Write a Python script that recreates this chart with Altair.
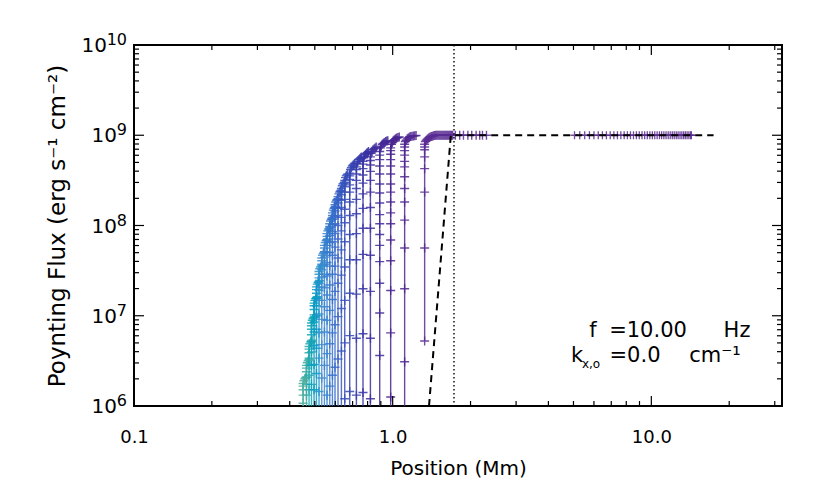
import altair as alt
import pandas as pd

# ---------------- data ----------------
# x position (Mm) of each near-vertical flux profile, left (teal) to right (purple)
curve_x = [0.4505, 0.4643, 0.4751, 0.4854, 0.4967, 0.5074, 0.5192, 0.5319, 0.5448,
           0.5575, 0.5711, 0.5850, 0.5986, 0.6148, 0.6336, 0.6526, 0.6823, 0.7241,
           0.7679, 0.8203, 0.8910, 0.9824, 1.1125, 1.3293]

# log10 flux of the "+" markers along each vertical part
curve_marks = [
    [6.25, 6.22, 6.18, 6.12, 6.03, 5.9, 5.7],
    [6.45, 6.42, 6.38, 6.32, 6.24, 6.12, 5.95, 5.7],
    [6.66, 6.63, 6.59, 6.53, 6.45, 6.34, 6.18, 5.9],
    [6.92, 6.89, 6.85, 6.79, 6.71, 6.60, 6.45, 6.24, 5.9],
    [7.14, 7.11, 7.07, 7.01, 6.93, 6.82, 6.67, 6.46, 6.18, 5.8],
    [7.32, 7.29, 7.25, 7.19, 7.11, 7.00, 6.85, 6.64, 6.36, 5.9],
    [7.49, 7.46, 7.42, 7.36, 7.28, 7.17, 7.02, 6.81, 6.53, 6.16, 5.7],
    [7.64, 7.61, 7.57, 7.51, 7.43, 7.32, 7.17, 6.96, 6.68, 6.31, 5.85],
    [7.78, 7.75, 7.71, 7.65, 7.57, 7.46, 7.31, 7.10, 6.82, 6.45, 5.9],
    [7.91, 7.88, 7.84, 7.78, 7.70, 7.59, 7.44, 7.23, 6.95, 6.58, 6.12, 5.5],
    [8.02, 7.99, 7.95, 7.89, 7.81, 7.70, 7.55, 7.34, 7.06, 6.69, 6.22, 5.6],
    [8.14, 8.11, 8.07, 8.01, 7.93, 7.82, 7.67, 7.46, 7.18, 6.81, 6.34, 5.7],
    [8.23, 8.20, 8.16, 8.10, 8.02, 7.91, 7.76, 7.55, 7.27, 6.90, 6.43, 5.8],
    [8.32, 8.29, 8.25, 8.19, 8.11, 8.00, 7.85, 7.64, 7.36, 6.99, 6.52, 5.9],
    [8.41, 8.38, 8.34, 8.28, 8.20, 8.09, 7.94, 7.73, 7.45, 7.08, 6.61, 5.9],
    [8.50, 8.47, 8.43, 8.37, 8.29, 8.18, 8.03, 7.82, 7.54, 7.17, 6.70, 6.08, 5.3],
    [8.58, 8.55, 8.51, 8.45, 8.37, 8.26, 8.11, 7.90, 7.62, 7.25, 6.78, 6.16, 5.4],
    [8.65, 8.62, 8.57, 8.50, 8.41, 8.29, 8.13, 7.91, 7.62, 7.24, 6.75, 6.12, 5.3],
    [8.71, 8.68, 8.63, 8.56, 8.47, 8.35, 8.19, 7.97, 7.68, 7.30, 6.80, 6.15, 5.3],
    [8.76, 8.72, 8.67, 8.60, 8.50, 8.37, 8.20, 7.97, 7.67, 7.27, 6.75, 6.08, 5.2],
    [8.82, 8.78, 8.73, 8.66, 8.57, 8.46, 8.36, 8.25, 8.12, 8.02, 7.90, 7.78, 7.60,
     7.36, 7.03, 6.56, 5.9],
    [8.86, 8.83, 8.79, 8.73, 8.66, 8.57, 8.46, 8.37, 8.26, 8.14, 8.02, 7.84, 7.61,
     7.28, 6.81, 6.10, 5.2],
    [8.90, 8.87, 8.83, 8.78, 8.71, 8.65, 8.54, 8.41, 8.26, 8.06, 7.75, 7.30, 6.49, 5.3],
    [8.90, 8.87, 8.84, 8.76, 8.63, 8.37, 7.75, 6.72],
]

# the short bend to the right at the top of each profile (x in Mm, log10 flux)
hook_x = [
    [0.4537, 0.4568, 0.4600, 0.4631], [0.4676, 0.4708, 0.4741, 0.4773],
    [0.4784, 0.4818, 0.4851, 0.4884], [0.4888, 0.4922, 0.4956, 0.4990],
    [0.5002, 0.5037, 0.5071, 0.5106], [0.5110, 0.5145, 0.5181, 0.5216],
    [0.5228, 0.5265, 0.5301, 0.5337], [0.5356, 0.5393, 0.5431, 0.5468],
    [0.5486, 0.5524, 0.5562, 0.5600], [0.5614, 0.5653, 0.5692, 0.5731],
    [0.5751, 0.5791, 0.5831, 0.5871], [0.5891, 0.5932, 0.5973, 0.6014],
    [0.6028, 0.6070, 0.6112, 0.6154], [0.6191, 0.6234, 0.6277, 0.6320],
    [0.6380, 0.6425, 0.6469, 0.6513], [0.6572, 0.6617, 0.6663, 0.6709],
    [0.6870, 0.6925, 0.6980, 0.7035, 0.7089, 0.7137],
    [0.7287, 0.7342, 0.7404, 0.7458, 0.7520, 0.7574],
    [0.7733, 0.7794, 0.7863, 0.7932, 0.7994, 0.8063],
    [0.8256, 0.8326, 0.8400, 0.8482, 0.8556, 0.8638],
    [0.8971, 0.9038, 0.9115, 0.9204, 0.9293, 0.9391, 0.9489, 0.9578],
    [0.9891, 0.9965, 1.0055, 1.0152, 1.0256, 1.0364, 1.0482, 1.0600],
    [1.1198, 1.1286, 1.1390, 1.1499, 1.1615, 1.1748, 1.1882, 1.2026, 1.2171, 1.2315],
    [1.3388, 1.3494, 1.3603, 1.3710, 1.3831, 1.3959, 1.4101, 1.4245, 1.4388, 1.4530,
     1.4673, 1.4814, 1.4955, 1.5097, 1.5237, 1.5379, 1.5518, 1.5659, 1.5800, 1.5942,
     1.6082, 1.6222, 1.6362, 1.6500, 1.6639, 1.6778, 1.6917, 1.7057, 1.7471, 1.8163,
     1.8780, 1.9533, 2.0215, 2.1024, 2.1701, 2.2243, 2.3047],
]
hook_y = [
    [6.28, 6.30, 6.31, 6.32], [6.48, 6.50, 6.51, 6.52],
    [6.69, 6.71, 6.72, 6.73], [6.95, 6.97, 6.98, 6.99],
    [7.17, 7.19, 7.20, 7.21], [7.35, 7.37, 7.38, 7.39],
    [7.52, 7.54, 7.55, 7.56], [7.67, 7.69, 7.70, 7.71],
    [7.81, 7.83, 7.84, 7.85], [7.94, 7.96, 7.97, 7.98],
    [8.05, 8.07, 8.08, 8.09], [8.17, 8.19, 8.20, 8.21],
    [8.26, 8.28, 8.29, 8.30], [8.35, 8.37, 8.38, 8.39],
    [8.44, 8.46, 8.47, 8.48], [8.53, 8.55, 8.56, 8.57],
    [8.62, 8.64, 8.66, 8.67, 8.68, 8.69],
    [8.69, 8.71, 8.73, 8.74, 8.75, 8.76],
    [8.75, 8.77, 8.79, 8.80, 8.81, 8.82],
    [8.80, 8.82, 8.84, 8.85, 8.86, 8.87],
    [8.86, 8.88, 8.90, 8.91, 8.92, 8.93, 8.935, 8.94],
    [8.90, 8.92, 8.94, 8.95, 8.96, 8.97, 8.975, 8.98],
    [8.93, 8.945, 8.96, 8.97, 8.98, 8.985, 8.99, 8.993, 8.995, 8.997],
    [8.93, 8.945, 8.955, 8.965, 8.975, 8.98, 8.985, 8.99, 8.995, 8.997,
     9.0, 9.0, 9.0, 9.0, 9.0, 9.0, 9.0, 9.0, 9.0, 9.0,
     9.0, 9.0, 9.0, 9.0, 9.0, 9.0, 9.0, 9.0, 9.0, 9.0,
     9.0, 9.0, 9.0, 9.0, 9.0, 9.0, 9.0],
]

# far group of markers lying on the 1e9 level
far_x = [5.047, 5.287, 5.526, 5.764, 6.000, 6.235, 6.469, 6.703, 6.934, 7.165,
         7.395, 7.624, 7.852, 8.080, 8.305, 8.531, 8.756, 8.981, 9.204, 9.425,
         9.647, 9.869, 10.09, 10.31, 10.53, 10.75, 10.96, 11.18, 11.40, 11.62,
         11.83, 12.05, 12.26, 12.48, 12.69, 12.91, 13.12, 13.33, 13.54, 13.75,
         13.97, 14.18, 14.28]
far_logF = 9.0

# dashed black reference line and dotted vertical line
dash_x = [1.382, 1.678, 17.4]
dash_logF = [6.0, 9.0, 9.0]
dotted_x = [1.726]

# axis ticks
x_major = [0.1, 1.0, 10.0]
x_minor = [0.2, 0.3, 0.4, 0.5, 0.6, 0.7, 0.8, 0.9, 2, 3, 4, 5, 6, 7, 8, 9, 20, 30]
y_major = [1e6, 1e7, 1e8, 1e9, 1e10]
y_exp = ["6", "7", "8", "9", "10"]
y_minor = [k * 10.0 ** d for d in (6, 7, 8, 9) for k in (2, 3, 4, 5, 6, 7, 8, 9)]

curve_colors = ["#4fb09f", "#3f8ccf", "#3a62c6", "#3833a6", "#48238f", "#5a2b93"]
color_stops = [0, 7, 13, 18, 21, 23]

# ---------------- build tables ----------------
rows = []
for i, x0 in enumerate(curve_x):
    pts = [(x0, v) for v in sorted(curve_marks[i])]
    pts += list(zip(hook_x[i], hook_y[i]))
    for k, (xx, lv) in enumerate(pts):
        rows.append({"cid": i, "ord": k, "x": xx, "F": 10.0 ** lv})
curves = pd.DataFrame(rows)
far = pd.DataFrame({"x": far_x, "F": [10.0 ** far_logF] * len(far_x)})
dash = pd.DataFrame({"x": dash_x, "F": [10.0 ** v for v in dash_logF],
                     "ord": list(range(len(dash_x)))})
dotted = pd.DataFrame({"x": dotted_x})

W, H = 648, 361
FONT = "DejaVu Sans"

xscale = alt.Scale(type="log", domain=[0.1, 32], nice=False)
yscale = alt.Scale(type="log", domain=[1e6, 1e10], nice=False)
xaxis = alt.Axis(values=x_major, format=".1f", ticks=False, domain=False, grid=False,
                 labelFontSize=18, labelFont=FONT, labelColor="black", labelPadding=22,
                 labelFlush=False, title="Position (Mm)", titleFont=FONT,
                 titleFontSize=20, titleFontWeight="normal", titleColor="black",
                 titleY=68, titleBaseline="alphabetic")
yaxis = alt.Axis(labels=False, ticks=False, domain=False, grid=False,
                 title="Poynting Flux (erg s⁻¹ cm⁻²)", titleFont=FONT,
                 titleFontSize=23, titleFontWeight="normal", titleColor="black",
                 titleX=-70, titleY=H / 2, titleAlign="center",
                 titleBaseline="alphabetic")
X = alt.X("x:Q", scale=xscale, axis=xaxis)
Y = alt.Y("F:Q", scale=yscale, axis=yaxis)

color = alt.Color("cid:Q", scale=alt.Scale(domain=color_stops, range=curve_colors),
                  legend=None)
plus = "M-1,0L1,0M0,-1L0,1"

lines = alt.Chart(curves).mark_line(strokeWidth=1.4, opacity=0.85, clip=True).encode(
    x=X, y=Y, color=color, detail="cid:N", order="ord:Q")
points = alt.Chart(curves).mark_point(shape=plus, size=81, strokeWidth=1.4,
                                      filled=False, opacity=0.85, clip=True).encode(
    x=X, y=Y, color=color)
far_pts = alt.Chart(far).mark_point(shape=plus, size=64, strokeWidth=1.3, filled=False,
                                    opacity=0.85, color="#5a2a8e", clip=True).encode(
    x=X, y=Y)
dash_line = alt.Chart(dash).mark_line(color="black", strokeWidth=2, strokeDash=[7, 5],
                                      clip=True).encode(x=X, y=Y, order="ord:Q")
dot_rule = alt.Chart(dotted).mark_rule(color="black", strokeWidth=1.4,
                                       strokeDash=[1.5, 2.5]).encode(x=X)

# inward ticks on all four sides
xmaj = pd.DataFrame({"x": x_major})
xmin = pd.DataFrame({"x": x_minor})
ymaj = pd.DataFrame({"F": y_major, "exp": y_exp})
ymin = pd.DataFrame({"F": y_minor})
tk = dict(color="black", strokeWidth=1.2)
ticks = [
    alt.Chart(xmaj).mark_rule(**tk).encode(x=X, y=alt.value(H), y2=alt.value(H - 10)),
    alt.Chart(xmaj).mark_rule(**tk).encode(x=X, y=alt.value(0), y2=alt.value(10)),
    alt.Chart(xmin).mark_rule(**tk).encode(x=X, y=alt.value(H), y2=alt.value(H - 5)),
    alt.Chart(xmin).mark_rule(**tk).encode(x=X, y=alt.value(0), y2=alt.value(5)),
    alt.Chart(ymaj).mark_rule(**tk).encode(y=Y, x=alt.value(0), x2=alt.value(10)),
    alt.Chart(ymaj).mark_rule(**tk).encode(y=Y, x=alt.value(W), x2=alt.value(W - 10)),
    alt.Chart(ymin).mark_rule(**tk).encode(y=Y, x=alt.value(0), x2=alt.value(5)),
    alt.Chart(ymin).mark_rule(**tk).encode(y=Y, x=alt.value(W), x2=alt.value(W - 5)),
]

# y tick labels 10^n drawn as mantissa + raised exponent
lab = dict(font=FONT, color="black", align="right", baseline="alphabetic")
ylabels = [
    alt.Chart(ymaj).transform_filter("datum.exp != '10'").mark_text(
        fontSize=20, dy=7, **lab).encode(y=Y, x=alt.value(-17), text=alt.value("10")),
    alt.Chart(ymaj).transform_filter("datum.exp == '10'").mark_text(
        fontSize=20, dy=7, **lab).encode(y=Y, x=alt.value(-27), text=alt.value("10")),
    alt.Chart(ymaj).mark_text(fontSize=16, dy=0, **lab).encode(
        y=Y, x=alt.value(-7), text="exp:N"),
]

# annotation (pieces centred where they sit in the picture)
ann = dict(font=FONT, color="black", baseline="alphabetic", fontSize=21,
           align="center")
annot = [
    alt.Chart(dotted).mark_text(**ann).encode(
        x=alt.value(459), y=alt.value(292), text=alt.value("f")),
    alt.Chart(dotted).mark_text(**ann).encode(
        x=alt.value(514), y=alt.value(292), text=alt.value("=10.00")),
    alt.Chart(dotted).mark_text(**ann).encode(
        x=alt.value(603), y=alt.value(292), text=alt.value("Hz")),
    alt.Chart(dotted).mark_text(**ann).encode(
        x=alt.value(443), y=alt.value(317), text=alt.value("k")),
    alt.Chart(dotted).mark_text(align="center", font=FONT, color="black",
                                baseline="alphabetic", fontSize=12).encode(
        x=alt.value(457), y=alt.value(323), text=alt.value("x,o")),
    alt.Chart(dotted).mark_text(**ann).encode(
        x=alt.value(501), y=alt.value(317), text=alt.value("=0.0")),
    alt.Chart(dotted).mark_text(**ann).encode(
        x=alt.value(581), y=alt.value(317), text=alt.value("cm⁻¹")),
]

chart = alt.layer(
    lines, points, far_pts, dash_line, dot_rule, *ticks, *ylabels, *annot
).properties(
    width=W, height=H, autosize="none",
    padding={"left": 126, "top": 37, "right": 40, "bottom": 80},
).configure(background="white").configure_view(stroke="black", strokeWidth=2)

chart.save("out.html", embed_options={"renderer": "svg", "actions": False})
